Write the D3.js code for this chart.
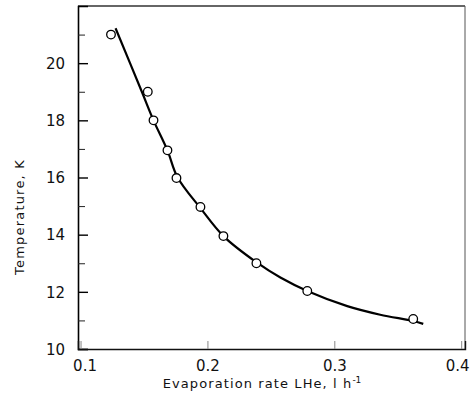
<!DOCTYPE html>
<html><head><meta charset="utf-8">
<script src="https://cdn.jsdelivr.net/npm/d3@7"></script>
<style>html,body{margin:0;padding:0;background:#fff;}svg{display:block;}</style>
</head><body>
<script>
// Data
const rate = [0.124, 0.153, 0.1575, 0.1685, 0.1756, 0.1945, 0.2126, 0.2386, 0.2787, 0.3622];
const temp = [21.0, 19.0, 18.0, 16.95, 15.98, 14.97, 13.95, 13.0, 12.03, 11.05];
const curveRate = [0.1276, 0.1484, 0.1575, 0.1685, 0.1764, 0.1945, 0.2126, 0.2394, 0.2575, 0.2787, 0.3102, 0.3362, 0.3622, 0.3701];
const curveTemp = [21.22, 18.99, 18.0, 16.95, 16.01, 14.93, 13.95, 13.01, 12.5, 12.03, 11.5, 11.2, 10.98, 10.88];
const xTicks = [0.1, 0.2, 0.3, 0.4];
const xTickLabels = ["0.1", "0.2", "0.3", "0.4"];
const yMajor = [10, 12, 14, 16, 18, 20];
const yMajorLabels = ["10", "12", "14", "16", "18", "20"];
const yMinor = [11, 13, 15, 17, 19, 21];

const W = 470, H = 395;
const mLeft = 78, mRight = 465, mTop = 6, mBottom = 349;
const font = "'DejaVu Sans', sans-serif";

const svg = d3.select("body").append("svg").attr("width", W).attr("height", H);
const x = d3.scaleLinear().domain([0.098, 0.403]).range([mLeft, mRight]);
const y = d3.scaleLinear().domain([10, 22]).range([mBottom, mTop]);

// frame: top and right lighter
svg.append("line").attr("x1", mLeft).attr("x2", mRight).attr("y1", mTop).attr("y2", mTop)
  .attr("stroke", "#333").attr("stroke-width", 1.3);
svg.append("line").attr("x1", mRight).attr("x2", mRight).attr("y1", mTop).attr("y2", mBottom)
  .attr("stroke", "#555").attr("stroke-width", 1);

// Y axis
const yAxis = d3.axisRight(y).tickValues(yMajor).tickSize(10)
  .tickFormat((d, i) => yMajorLabels[i]);
const gy = svg.append("g").attr("transform", `translate(${mLeft},0)`).call(yAxis);
gy.select(".domain").attr("stroke", "#000").attr("stroke-width", 1.6);
gy.selectAll(".tick line").attr("stroke", "#000").attr("stroke-width", 1.4);
gy.selectAll(".tick text").attr("x", -13).attr("text-anchor", "end")
  .attr("font-family", font).attr("font-size", 15).attr("fill", "#111").attr("dy", "0.35em");
const gyMinor = svg.append("g").attr("transform", `translate(${mLeft},0)`)
  .call(d3.axisRight(y).tickValues(yMinor).tickSize(7).tickFormat(""));
gyMinor.select(".domain").remove();
gyMinor.selectAll(".tick line").attr("stroke", "#222").attr("stroke-width", 1);

// X axis
const xAxis = d3.axisTop(x).tickValues(xTicks).tickSize(8)
  .tickFormat((d, i) => xTickLabels[i]);
const gx = svg.append("g").attr("transform", `translate(0,${mBottom})`).call(xAxis);
gx.select(".domain").attr("stroke", "#111").attr("stroke-width", 1.4);
gx.selectAll(".tick line").attr("stroke", "#888").attr("stroke-width", 1);
gx.selectAll(".tick text").attr("y", 17).attr("dy", "0.35em")
  .attr("font-family", font).attr("font-size", 15).attr("fill", "#111")
  .attr("x", (d, i) => i === 0 ? 4 : (i === 3 ? -4 : 0));

// curve
const line = d3.line().x((d, i) => x(curveRate[i])).y((d, i) => y(curveTemp[i]))
  .curve(d3.curveCatmullRom.alpha(0.5));
svg.append("path").attr("d", line(curveRate)).attr("fill", "none")
  .attr("stroke", "#000").attr("stroke-width", 2.2);

// points
svg.append("g").selectAll("circle").data(rate).join("circle")
  .attr("cx", d => x(d)).attr("cy", (d, i) => y(temp[i])).attr("r", 4.3)
  .attr("fill", "#fff").attr("stroke", "#000").attr("stroke-width", 1.3);

// axis titles
svg.append("text").attr("x", 262).attr("y", 388).attr("text-anchor", "middle")
  .attr("font-family", font).attr("font-size", 13).attr("letter-spacing", 1.1).attr("fill", "#111")
  .html('Evaporation rate LHe, l h<tspan dy="-5" font-size="9" letter-spacing="0">-1</tspan>');
svg.append("text").attr("transform", "translate(24,217) rotate(-90)")
  .attr("text-anchor", "middle").attr("font-family", font).attr("font-size", 13)
  .attr("letter-spacing", 1.2).attr("fill", "#111").text("Temperature, K");
</script>
</body></html>
